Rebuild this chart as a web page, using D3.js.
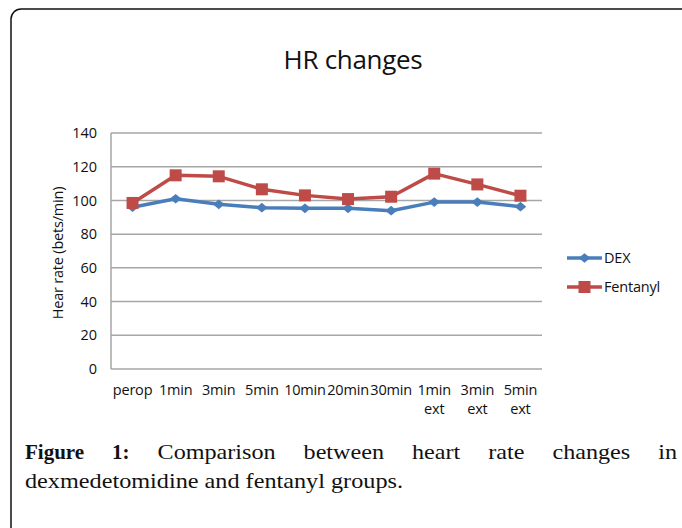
<!DOCTYPE html>
<html>
<head>
<meta charset="utf-8">
<script src="https://cdn.jsdelivr.net/npm/d3@7"></script>
<style>
  body { margin: 0; background: #fff; }
  svg { display: block; }
</style>
</head>
<body>
<script>
var categories = ["perop", "1min", "3min", "5min", "10min", "20min", "30min", "1min ext", "3min ext", "5min ext"];
var dexValues = [96, 101, 97.7, 95.7, 95.3, 95.3, 93.9, 99, 99, 96.3];
var fentanylValues = [98.5, 114.9, 114.3, 106.6, 103, 100.8, 102.2, 115.9, 109.5, 102.8];
var yTicks = [0, 20, 40, 60, 80, 100, 120, 140];
var seriesNames = ["DEX", "Fentanyl"];

var dexColor = "#4a7ebb";
var fenColor = "#be4b48";
var gridColor = "#a6a6a6";
var axisFont = "'Open Sans', 'DejaVu Sans', sans-serif";

var width = 682, height = 528;
var plot = {left: 111, right: 542, top: 133, bottom: 369};

var svg = d3.select("body").append("svg")
    .attr("width", width)
    .attr("height", height);

// frame (runs off the right and bottom edge like the source)
svg.append("rect")
    .attr("x", 11).attr("y", 9)
    .attr("width", 700).attr("height", 560)
    .attr("rx", 10).attr("ry", 10)
    .attr("fill", "none")
    .attr("stroke", "#111")
    .attr("stroke-width", 1.5);

// title
svg.append("text")
    .attr("x", 353).attr("y", 69)
    .attr("text-anchor", "middle")
    .style("font-family", axisFont)
    .style("font-size", "26px")
    .style("letter-spacing", "-0.3px")
    .style("fill", "#111")
    .text("HR changes");

var x = d3.scaleBand()
    .domain(categories)
    .range([plot.left, plot.right]);

var y = d3.scaleLinear()
    .domain([0, 140])
    .range([plot.bottom, plot.top]);

// gridlines
svg.append("g").selectAll("line")
    .data(yTicks)
    .enter().append("line")
    .attr("x1", plot.left).attr("x2", plot.right)
    .attr("y1", function (d) { return y(d); })
    .attr("y2", function (d) { return y(d); })
    .attr("stroke", gridColor)
    .attr("stroke-width", 1.5);

// y axis line
svg.append("line")
    .attr("x1", plot.left).attr("x2", plot.left)
    .attr("y1", plot.top).attr("y2", plot.bottom)
    .attr("stroke", gridColor)
    .attr("stroke-width", 1.5);

// y tick labels
svg.append("g").selectAll("text")
    .data(yTicks)
    .enter().append("text")
    .attr("x", plot.left - 14)
    .attr("y", function (d) { return y(d); })
    .attr("dy", "0.35em")
    .attr("text-anchor", "end")
    .style("font-family", axisFont)
    .style("font-size", "14.5px")
    .style("fill", "#111")
    .text(function (d) { return d; });

// x tick labels, split on the space
svg.append("g").selectAll("text")
    .data(categories)
    .enter().append("text")
    .attr("text-anchor", "middle")
    .style("font-family", axisFont)
    .style("font-size", "14.5px")
    .style("letter-spacing", "-0.2px")
    .style("fill", "#111")
    .each(function (d) {
        var t = d3.select(this);
        var cx = x(d) + x.bandwidth() / 2;
        d.split(" ").forEach(function (part, i) {
            t.append("tspan")
                .attr("x", cx)
                .attr("y", 395 + i * 19)
                .text(part);
        });
    });

// y axis title
svg.append("text")
    .attr("transform", "translate(63,253) rotate(-90)")
    .attr("text-anchor", "middle")
    .style("font-family", axisFont)
    .style("font-size", "14.5px")
    .style("letter-spacing", "-0.2px")
    .style("fill", "#111")
    .text("Hear rate (bets/min)");

var line = d3.line()
    .x(function (d, i) { return x(categories[i]) + x.bandwidth() / 2; })
    .y(function (d) { return y(d); });

var diamond = d3.symbol().type(d3.symbolDiamond2).size(60);

function drawSeries(values, color, marker) {
    var g = svg.append("g");
    g.append("path")
        .datum(values)
        .attr("d", line)
        .attr("fill", "none")
        .attr("stroke", color)
        .attr("stroke-width", 3.5)
        .attr("stroke-linejoin", "round");
    values.forEach(function (d, i) {
        var cx = x(categories[i]) + x.bandwidth() / 2;
        var cy = y(d);
        if (marker == "diamond") {
            g.append("path")
                .attr("d", diamond())
                .attr("transform", "translate(" + cx + "," + cy + ") scale(1.2,1)")
                .attr("fill", color);
        } else {
            g.append("rect")
                .attr("x", cx - 6).attr("y", cy - 6)
                .attr("width", 12).attr("height", 12)
                .attr("fill", color);
        }
    });
}

drawSeries(dexValues, dexColor, "diamond");
drawSeries(fentanylValues, fenColor, "square");

// legend
var legend = svg.append("g");
[[dexColor, "diamond"], [fenColor, "square"]].forEach(function (s, i) {
    var ly = 258 + i * 29;
    legend.append("line")
        .attr("x1", 567).attr("x2", 602)
        .attr("y1", ly).attr("y2", ly)
        .attr("stroke", s[0])
        .attr("stroke-width", 3.5);
    if (s[1] == "diamond") {
        legend.append("path")
            .attr("d", diamond())
            .attr("transform", "translate(584.5," + ly + ") scale(1.2,1)")
            .attr("fill", s[0]);
    } else {
        legend.append("rect")
            .attr("x", 578.5).attr("y", ly - 6)
            .attr("width", 12).attr("height", 12)
            .attr("fill", s[0]);
    }
    legend.append("text")
        .attr("x", 604).attr("y", ly)
        .attr("dy", "0.35em")
        .style("font-family", axisFont)
        .style("font-size", "14.5px")
        .style("letter-spacing", "-0.2px")
        .style("fill", "#111")
        .text(seriesNames[i]);
});

// caption, first line justified between the frame margins
var capFont = "'Liberation Serif', 'DejaVu Serif', serif";
var capLeft = 25, capRight = 677;
var stretch = 1.15;
var words = [
    {t: "Figure", bold: true},
    {t: "1:", bold: true},
    {t: "Comparison"}, {t: "between"}, {t: "heart"}, {t: "rate"}, {t: "changes"}, {t: "in"}
];
var cap = svg.append("g")
    .style("font-family", capFont)
    .style("font-size", "21px")
    .style("fill", "#111");
var widths = [];
var nodes = words.map(function (w) {
    var n = cap.append("text")
        .attr("y", 459)
        .style("font-weight", w.bold ? "bold" : "normal")
        .text(w.t);
    var wd = n.node().getComputedTextLength();
    if (!w.bold) {
        wd = wd * stretch;
        n.attr("textLength", wd).attr("lengthAdjust", "spacingAndGlyphs");
    }
    widths.push(wd);
    return n;
});
var total = d3.sum(widths);
var gap = (capRight - capLeft - total) / (nodes.length - 1);
var cursor = capLeft;
nodes.forEach(function (n, i) {
    n.attr("x", cursor);
    cursor += widths[i] + gap;
});
cap.append("text")
    .attr("x", capLeft).attr("y", 488)
    .attr("textLength", 378)
    .attr("lengthAdjust", "spacingAndGlyphs")
    .text("dexmedetomidine and fentanyl groups.");
</script>
</body>
</html>
